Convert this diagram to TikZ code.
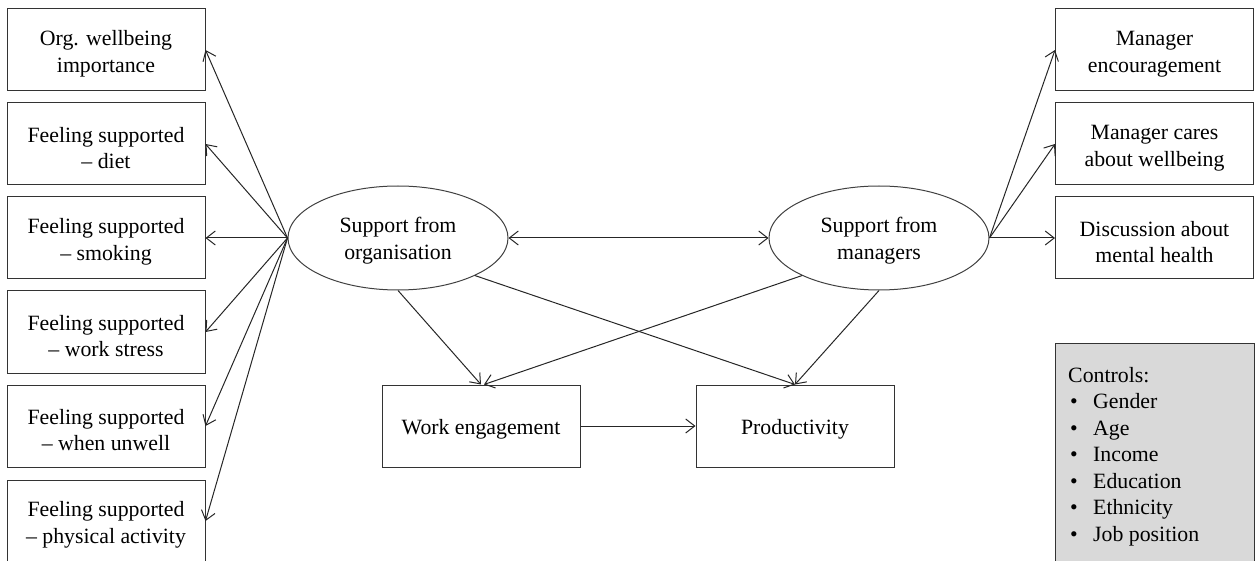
\documentclass[tikz,border=0pt]{standalone}
\usepackage{fontspec}
\setmainfont{Liberation Serif}
\usetikzlibrary{arrows.meta,shapes.geometric}
\newcommand{\lift}[1]{\rule{0pt}{#1}}
\begin{document}
\begin{tikzpicture}[x=1pt,y=-1pt,
  txt/.style={font=\fontsize{21.8}{26.5}\selectfont},
  box/.style={txt,draw=black!80,line width=1pt,minimum width=198pt,minimum height=82pt,align=center,inner sep=0pt},
  lat/.style={txt,draw=black!75,line width=1pt,ellipse,minimum width=220pt,minimum height=104pt,align=center,inner sep=0pt},
  tip/.tip={Straight Barb[length=9pt,width=14pt,line width=1pt]},
  arr/.style={draw=black!85,line width=1pt,-tip}]
\useasboundingbox (0,0) rectangle (1258,561);
% left indicators
\node[box] (L1) at (106,50) {\lift{23pt}Org. wellbeing\\importance};
\node[box] (L2) at (106,144) {\lift{23pt}Feeling supported\\– diet};
\node[box] (L3) at (106,238) {\lift{23pt}Feeling supported\\– smoking};
\node[box] (L4) at (106,332) {\lift{23pt}Feeling supported\\– work stress};
\node[box] (L5) at (106,426) {\lift{23pt}Feeling supported\\– when unwell};
\node[box] (L6) at (106,521) {\lift{23pt}Feeling supported\\– physical activity};
% right indicators
\node[box] (R1) at (1154.5,50) {\lift{23pt}Manager\\encouragement};
\node[box] (R2) at (1154.5,144) {\lift{23pt}Manager cares\\about wellbeing};
\node[box] (R3) at (1154.5,238) {\lift{23pt}Discussion about\\mental health};
% latents
\node[lat] (o) at (398,238) {\lift{21pt}Support from\\organisation};
\node[lat] (m) at (879,238) {\lift{21pt}Support from\\managers};
% outcomes
\node[box] (we) at (481,426) {\lift{21pt}Work engagement};
\node[box] (pr) at (795,426) {\lift{21pt}Productivity};
% controls
\node[draw=black!80,line width=1pt,fill=black!15,minimum width=199pt,minimum height=240pt,anchor=north west,inner sep=0pt] (ctl) at (1055,343) {};
\node[txt,anchor=north west,align=left,inner sep=0pt] (ctltext) at (1068,367)
 {Controls:\\
  \hspace{2pt}\makebox[23pt][l]{•}Gender\\
  \hspace{2pt}\makebox[23pt][l]{•}Age\\
  \hspace{2pt}\makebox[23pt][l]{•}Income\\
  \hspace{2pt}\makebox[23pt][l]{•}Education\\
  \hspace{2pt}\makebox[23pt][l]{•}Ethnicity\\
  \hspace{2pt}\makebox[23pt][l]{•}Job position};
% connectors
\foreach \n in {L1,L2,L3,L4,L5,L6} \draw[arr] (o.west) -- (\n.east);
\foreach \n in {R1,R2,R3} \draw[arr] (m.east) -- (\n.west);
\draw[arr,tip-tip] (o.east) -- (m.west);
\draw[arr] (o.south) -- (we.north);
\draw[arr] (o.-26.3) -- (pr.north);
\draw[arr] (m.206.6) -- ([xshift=3pt]we.north);
\draw[arr] (m.south) -- (pr.north);
\draw[arr] (we.east) -- (pr.west);
\end{tikzpicture}
\end{document}
